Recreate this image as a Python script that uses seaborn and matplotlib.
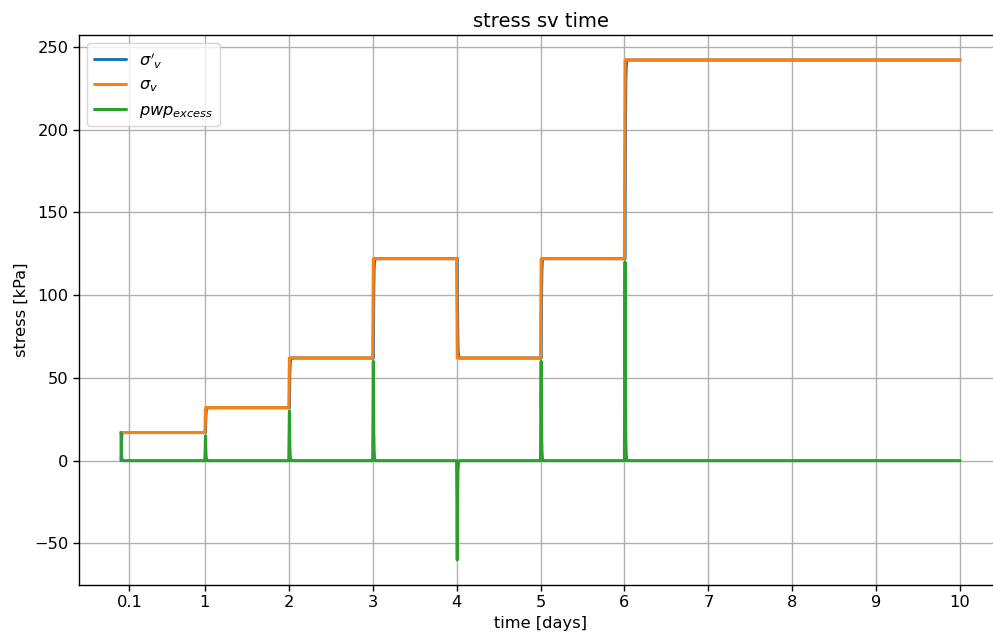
import matplotlib
matplotlib.use("Agg")
import matplotlib.pyplot as plt
import seaborn as sns
import pandas as pd

# Time points (days): a short consolidation curve after each load change at t = 0, 1, ..., 6
time_days = [
    0.0, 0.003, 0.006, 0.01, 0.015, 0.025,
    1.0, 1.008, 1.01, 1.013, 1.017, 1.022, 1.03,
    2.0, 2.008, 2.01, 2.013, 2.017, 2.022, 2.03,
    3.0, 3.008, 3.01, 3.013, 3.017, 3.022, 3.03,
    4.0, 4.008, 4.01, 4.013, 4.017, 4.022, 4.03,
    5.0, 5.008, 5.01, 5.013, 5.017, 5.022, 5.03,
    6.0, 6.008, 6.01, 6.013, 6.017, 6.022, 6.03,
    10.0,
]

# Total vertical stress (kPa)
sigma_v = [
    17, 17, 17, 17, 17, 17,
    17, 32, 32, 32, 32, 32, 32,
    32, 62, 62, 62, 62, 62, 62,
    62, 122, 122, 122, 122, 122, 122,
    122, 62, 62, 62, 62, 62, 62,
    62, 122, 122, 122, 122, 122, 122,
    122, 242, 242, 242, 242, 242, 242,
    242,
]

# Excess pore water pressure (kPa)
pwp_excess = [
    17, 10, 5, 1.7, 0.5, 0,
    0, 15, 9, 4.5, 1.5, 0.45, 0,
    0, 30, 18, 9, 3, 0.9, 0,
    0, 60, 36, 18, 6, 1.8, 0,
    0, -60, -36, -18, -6, -1.8, 0,
    0, 60, 36, 18, 6, 1.8, 0,
    0, 120, 72, 36, 12, 3.6, 0,
    0,
]

# Effective vertical stress (kPa)
sigma_eff = [
    0, 7, 12, 15.3, 16.5, 17,
    17, 17, 23, 27.5, 30.5, 31.55, 32,
    32, 32, 44, 53, 59, 61.1, 62,
    62, 62, 86, 104, 116, 120.2, 122,
    122, 122, 98, 80, 68, 63.8, 62,
    62, 62, 86, 104, 116, 120.2, 122,
    122, 122, 170, 206, 230, 238.4, 242,
    242,
]

x_ticks = [0.1, 1, 2, 3, 4, 5, 6, 7, 8, 9, 10]
x_tick_labels = ["0.1", "1", "2", "3", "4", "5", "6", "7", "8", "9", "10"]

df = pd.DataFrame({
    "time": time_days,
    "sigma_eff": sigma_eff,
    "sigma_v": sigma_v,
    "pwp": pwp_excess,
})

sns.set_style("ticks")
plt.rcParams["font.family"] = ["DejaVu Sans"]
plt.rcParams["font.size"] = 11.7
for key in ("text.color", "axes.labelcolor", "xtick.color", "ytick.color"):
    plt.rcParams[key] = "black"

fig = plt.figure(figsize=(9.93, 6.36), dpi=100)
ax = fig.add_axes([79 / 993, 51 / 636, (1002 - 79) / 993, (585 - 35) / 636])

series = [
    ("sigma_eff", r"$\sigma'_v$", "#1f77b4"),
    ("sigma_v", r"$\sigma_v$", "#ff7f0e"),
    ("pwp", r"$pwp_{excess}$", "#2ca02c"),
]
for col, lab, colr in series:
    sns.lineplot(data=df, x="time", y=col, label=lab, color=colr,
                 linewidth=2.2, estimator=None, sort=False, ax=ax)

ax.set_xticks(x_ticks)
ax.set_xticklabels(x_tick_labels)
ax.set_xlim(-0.5, 10.5)
ax.grid(True, color="#b0b0b0", linewidth=1.0)
ax.set_axisbelow(True)
for s in ax.spines.values():
    s.set_color("black")
    s.set_linewidth(1.0)
ax.spines["right"].set_visible(False)
ax.tick_params(axis="both", labelsize=11.7, length=4, width=1, color="black", direction="out")

ax.set_xlabel("time [days]", fontsize=11.7)
ax.set_ylabel("stress [kPa]", fontsize=11.7)
ax.set_title("stress sv time", fontsize=14)

ax.legend(loc="upper left", fontsize=11.7, frameon=True, framealpha=0.8,
          edgecolor="#cccccc", fancybox=True)

fig.savefig("out.png", dpi=100)
